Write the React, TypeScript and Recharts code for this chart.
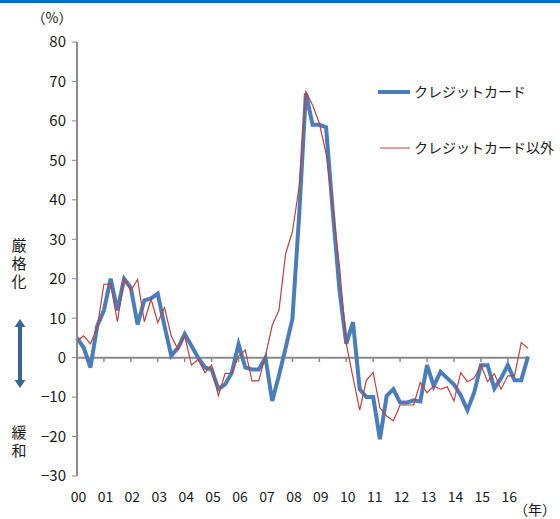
import React from 'react'
import { LineChart, Line, XAxis, YAxis, ReferenceLine } from 'recharts'

// quarterly, 2000Q1 .. 2016Q4
const yearLabels = ['00', '01', '02', '03', '04', '05', '06', '07', '08', '09', '10', '11', '12', '13', '14', '15', '16']
const creditCard = [
  5, 2.5, -2.5, 8, 12, 20, 12, 20, 17.7, 8.4, 14.5, 15, 16.2, 8, 0.5, 2.5,
  6, 3, 0, -2.5, -3, -8, -6.8, -3.8, 3.4, -2.5, -3, -3, 0, -11, -4.5, 2.5,
  9.8, 36, 67, 59, 59, 58.4, 37, 17, 3.5, 9, -8, -10, -10, -20.7, -9.7, -8,
  -11.4, -11.4, -10.8, -11.1, -1.9, -7.2, -3.6, -5.2, -6.8, -9.5, -13.3, -8.9, -1.9, -1.9,
  -7.8, -5.2, -1.9, -5.7, -5.7, 0.3,
]
const otherThanCard = [
  4.2, 5.5, 3.5, 7.6, 18.6, 18.7, 9.1, 20, 17, 19.8, 9.1, 14.8, 8.9, 12.7, 5.5, 2.1,
  5.5, -1.9, -0.4, -3.8, -1.9, -9.7, -4, -4, 0.4, 1.9, -5.9, -5.9, 0.5, 8.2, 12, 26.4,
  31.9, 43.3, 67.4, 64, 59.4, 51.8, 38, 23, 3.5, -5, -13.3, -5.7, -3.8, -12.7, -14.8, -16,
  -12, -12, -12, -6.3, -8.9, -7.2, -8, -7.4, -11, -3.8, -6.1, -5.2, -1.9, -6.1,
  -4.1, -8, -4.6, -4.6, 3.8, 2.4,
]
const yTicks = [-30, -20, -10, 0, 10, 20, 30, 40, 50, 60, 70, 80]
const seriesNames = ['クレジットカード', 'クレジットカード以外']

const data = creditCard.map((v, i) => ({ i, card: v, other: otherThanCard[i] }))
const xTicks = yearLabels.map((_, k) => k * 4)

const font = '"Noto Sans CJK JP", "Noto Sans", sans-serif'
const gray = '#8a8a8a'

const YearTick = (props: any) => {
  const { x, y, payload } = props
  return (
    <text x={x + 1.5} y={y} dy={26} textAnchor="middle" fill="#1a1a1a" fontSize={14} fontFamily={font}>
      {yearLabels[payload.value / 4]}
    </text>
  )
}

export default function App() {
  return (
    <div style={{ position: 'absolute', left: 0, top: 0, width: 560, height: 519, background: '#fff' }}>
      <div style={{ position: 'absolute', left: 0, top: 0, width: 560, height: 3, background: '#0070C0' }} />
      <LineChart width={560} height={519} data={data} margin={{ top: 42, right: 32, bottom: 13, left: 37 }}>
        <XAxis
          dataKey="i"
          type="number"
          domain={[0, 67]}
          ticks={xTicks}
          axisLine={false}
          tickLine={false}
          tickSize={0}
          tickMargin={0}
          height={30}
          interval={0}
          tick={<YearTick />}
        />
        <YAxis
          type="number"
          domain={[-30, 80]}
          ticks={yTicks}
          width={40}
          axisLine={{ stroke: gray, strokeWidth: 2 }}
          tickLine={{ stroke: gray }}
          tickSize={5}
          tickMargin={6}
          interval={0}
          tickFormatter={(v: number) => String(v).replace('-', '−')}
          tick={{ fill: '#1a1a1a', fontSize: 15, fontFamily: font }}
        />
        <ReferenceLine y={0} stroke={gray} strokeWidth={2} />
        {xTicks.slice(1).map((t) => (
          <ReferenceLine key={t} segment={[{ x: t, y: 0 }, { x: t, y: -1.1 }]} stroke={gray} strokeWidth={1.5} />
        ))}
        <Line
          type="linear"
          dataKey="card"
          name={seriesNames[0]}
          stroke="#4A7EBB"
          strokeWidth={4}
          dot={false}
          isAnimationActive={false}
        />
        <Line
          type="linear"
          dataKey="other"
          name={seriesNames[1]}
          stroke="#C0403D"
          strokeWidth={1.2}
          dot={false}
          isAnimationActive={false}
        />
      </LineChart>
      <svg width={560} height={519} style={{ position: 'absolute', left: 0, top: 0, pointerEvents: 'none' }}>
        <g fontFamily={font} fill="#1a1a1a">
          <text x={52} y={23} fontSize={14} textAnchor="middle">（%）</text>
          <text x={556} y={515} fontSize={14} textAnchor="end">（年）</text>
          <text x={19} y={238} fontSize={15} letterSpacing={3} style={{ writingMode: 'vertical-rl' }}>厳格化</text>
          <text x={19} y={425} fontSize={15} letterSpacing={3} style={{ writingMode: 'vertical-rl' }}>緩和</text>
          <text x={414} y={97} fontSize={14}>{seriesNames[0]}</text>
          <text x={414} y={153} fontSize={14}>{seriesNames[1]}</text>
        </g>
        <polygon
          points="20,319 25.5,327 22,327 22,380 25.5,380 20,388 14.5,380 18,380 18,327 14.5,327"
          fill="#3B6496"
        />
        <line x1={378} y1={92} x2={410} y2={92} stroke="#4A7EBB" strokeWidth={4} />
        <line x1={380} y1={148} x2={410} y2={148} stroke="#D08080" strokeWidth={1.5} />
      </svg>
    </div>
  )
}
